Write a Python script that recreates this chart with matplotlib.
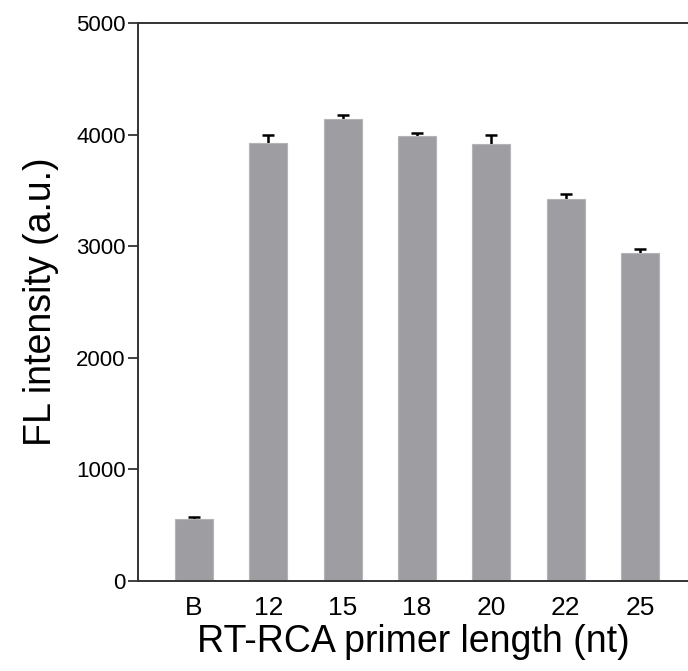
import matplotlib
matplotlib.use("Agg")
import matplotlib.pyplot as plt
import numpy as np

# primer length groups and measured fluorescence
labels = ["B", "12", "15", "18", "20", "22", "25"]
intensity = [556, 3925, 4140, 3988, 3916, 3426, 2942]
error = [14, 71, 39, 29, 84, 39, 30]

plt.rcParams['font.family'] = ['Liberation Sans', 'DejaVu Sans']

fig = plt.figure(figsize=(6.88, 6.71), dpi=100)
ax = fig.add_axes([0.2006, 0.1341, 0.7994, 0.8316])

x = np.arange(len(labels))
ax.bar(x, intensity, width=0.51, color="#9e9ea2", edgecolor="#b4b4b8", linewidth=0.8,
       zorder=2)
# error bars sit behind the bars, so only the upper half shows
ax.errorbar(x, intensity, yerr=error, fmt="none",
            ecolor="black", elinewidth=1.8, capsize=4, capthick=1.8, zorder=1)

ax.set_xlim(-0.753, 6.646)
ax.set_ylim(0, 5000)
ax.set_yticks([0, 1000, 2000, 3000, 4000, 5000])
ax.set_xticks(x)
ax.set_xticklabels(labels)

for side in ["left", "bottom", "top"]:
    ax.spines[side].set_linewidth(1.4)
    ax.spines[side].set_color("#333333")
    ax.spines[side].set_zorder(3)
ax.spines["right"].set_visible(False)

ax.tick_params(axis="y", direction="out", length=7, width=1.3, color="#333333",
               labelsize=16, pad=2)
ax.tick_params(axis="x", length=0, labelsize=19, pad=11)

ax.set_xlabel("RT-RCA primer length (nt)", fontsize=27, labelpad=3)
ax.set_ylabel("FL intensity (a.u.)", fontsize=27, labelpad=12)

fig.savefig("out.png", dpi=100)
